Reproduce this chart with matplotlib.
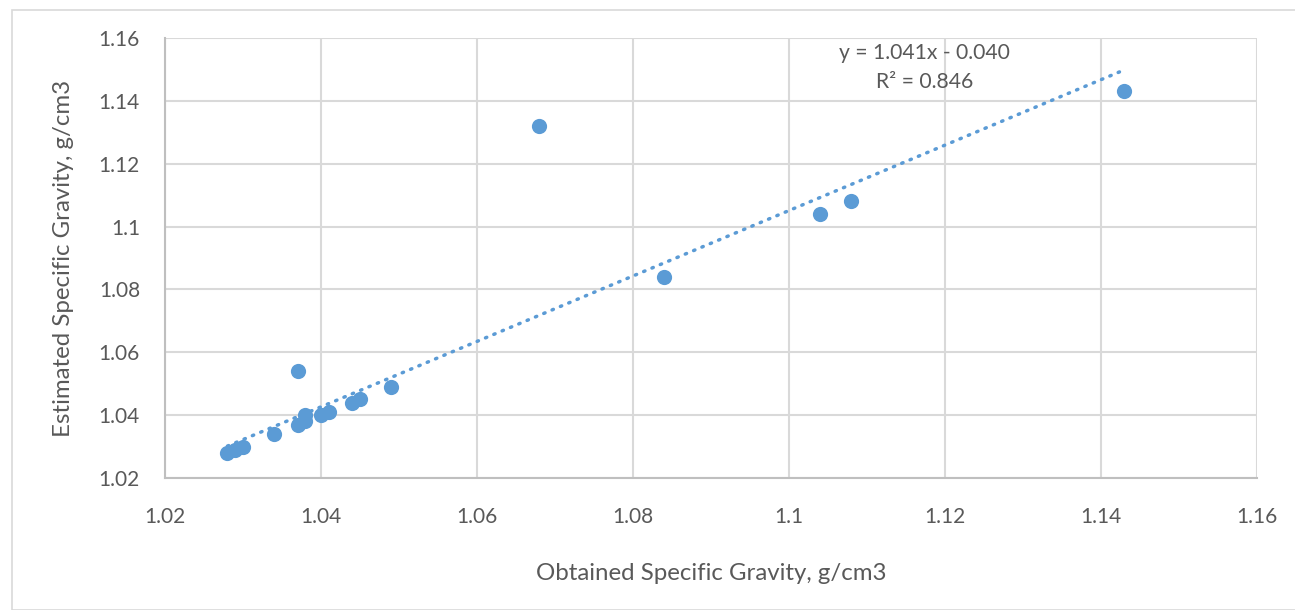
import numpy as np
import matplotlib.pyplot as plt
from matplotlib.patches import Rectangle

# measured vs estimated specific gravity (g/cm3)
obtained = [1.143, 1.068, 1.108, 1.104, 1.084, 1.037, 1.049, 1.045, 1.044,
            1.041, 1.040, 1.038, 1.038, 1.037, 1.034, 1.030, 1.029, 1.028]
estimated = [1.143, 1.132, 1.108, 1.104, 1.084, 1.054, 1.049, 1.045, 1.044,
             1.041, 1.040, 1.040, 1.038, 1.037, 1.034, 1.030, 1.029, 1.028]

# linear trend shown on the chart
slope = 1.041
intercept = -0.040
r_squared = 0.846

x_ticks = [1.02, 1.04, 1.06, 1.08, 1.1, 1.12, 1.14, 1.16]
y_ticks = [1.02, 1.04, 1.06, 1.08, 1.1, 1.12, 1.14, 1.16]

blue = '#5B9BD5'
text_grey = '#595959'
grid_grey = '#D9D9D9'

plt.rcParams['font.family'] = ['Lato', 'DejaVu Sans']

fig = plt.figure(figsize=(12.95, 6.10), dpi=100)
ax = fig.add_axes([165 / 1295, 1 - 478 / 610, (1257 - 165) / 1295, (478 - 38) / 610])

# outer chart border
fig.patches.append(Rectangle((12 / 1295, 0), 1.0, 1 - 10 / 610, transform=fig.transFigure,
                             fill=False, edgecolor='#D9D9D9', lw=1.2))

ax.set_xlim(1.02, 1.16)
ax.set_ylim(1.02, 1.16)
ax.set_xticks(x_ticks)
ax.set_yticks(y_ticks)
ax.set_xticklabels([f'{t:g}' for t in x_ticks])
ax.set_yticklabels([f'{t:g}' for t in y_ticks])
ax.grid(True, color=grid_grey, lw=1.5)
ax.set_axisbelow(True)
ax.tick_params(length=0, labelsize=15, labelcolor=text_grey)
ax.tick_params(axis='x', pad=21)
ax.tick_params(axis='y', pad=18)

for side in ['top', 'right']:
    ax.spines[side].set_visible(False)
for side in ['left', 'bottom']:
    ax.spines[side].set_color('#BFBFBF')
    ax.spines[side].set_linewidth(1.5)

ax.scatter(obtained, estimated, s=120, color=blue, zorder=3, linewidths=0)

xs = np.array([min(obtained), max(obtained)])
ax.plot(xs, slope * xs + intercept, color=blue, lw=2.5, linestyle=(0, (0.4, 2.2)),
        dash_capstyle='round', zorder=2)

ax.text(1.1174, 1.1533, f'y = {slope:.3f}x - {abs(intercept):.3f}',
        ha='center', va='baseline', fontsize=15.2, color=text_grey)
ax.text(1.1174, 1.1441, f'R² = {r_squared:.3f}',
        ha='center', va='baseline', fontsize=15.2, color=text_grey)

ax.set_xlabel('Obtained Specific Gravity, g/cm3', fontsize=17.3, color=text_grey, va='center')
ax.set_ylabel('Estimated Specific Gravity, g/cm3', fontsize=17.3, color=text_grey, va='center')
ax.xaxis.set_label_coords(0.5, (478 - 573) / 440)
ax.yaxis.set_label_coords((64 - 165) / 1092, 0.5)

fig.savefig('out.png', dpi=100)
